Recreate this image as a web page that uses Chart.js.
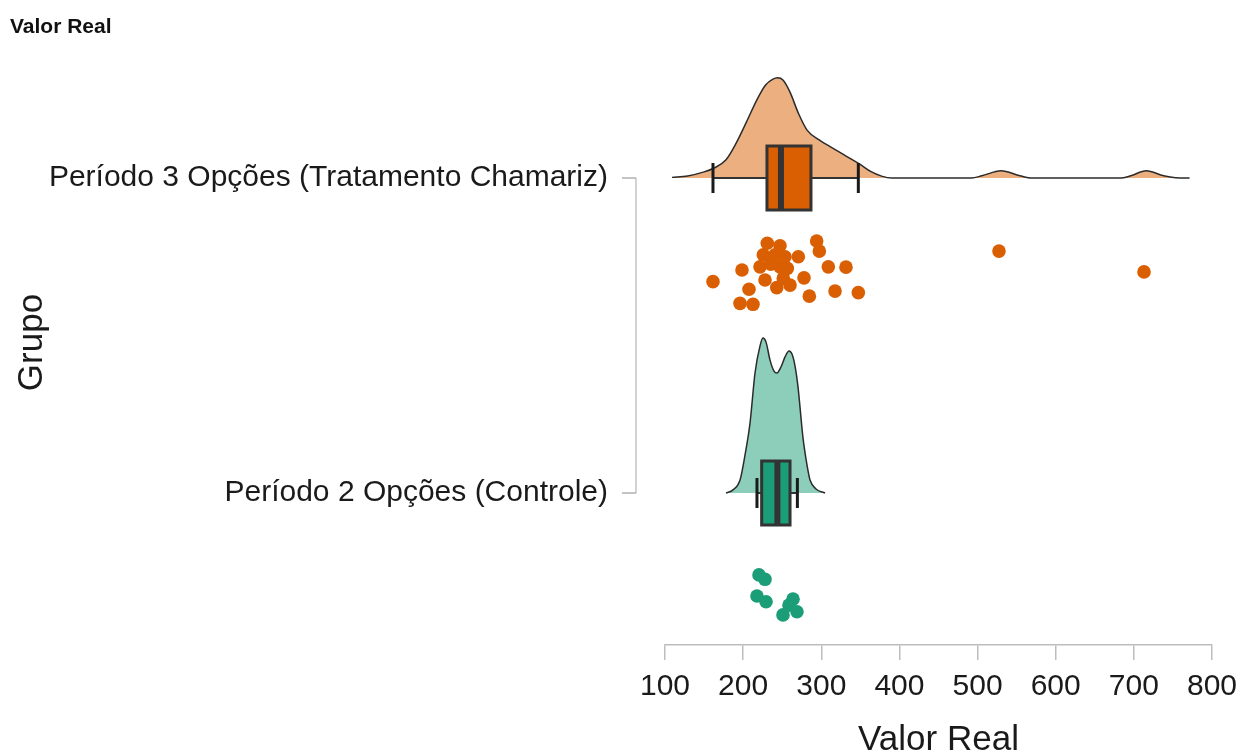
<!DOCTYPE html>
<html>
<head>
<meta charset="utf-8">
<script src="https://cdn.jsdelivr.net/npm/chart.js@4.4.1/dist/chart.umd.min.js"></script>
<style>
  html, body { margin: 0; padding: 0; background: #ffffff; }
  canvas { display: block; }
</style>
</head>
<body>
<canvas id="chart" width="1241" height="756"></canvas>
<script>
// Groups and their position on the vertical axis
const groupLabels = ['Período 2 Opções (Controle)', 'Período 3 Opções (Tratamento Chamariz)'];
const groupPos = [1, 2];

// Horizontal axis ticks
const xTicks = [100, 200, 300, 400, 500, 600, 700, 800];

// Tratamento Chamariz: observed values and vertical jitter of each dot
const tratValues = [161.4, 196.0, 198.5, 207.5, 212.6, 221.6, 225.8, 228.0, 230.9, 235.3,
                    240.8, 243.0, 247.2, 247.2, 251.4, 253.6, 256.5, 260.0, 270.6, 277.9,
                    284.7, 294.1, 297.5, 309.0, 317.6, 331.6, 347.4, 527.4, 713.0];
const tratJitter = [0.329, 0.398, 0.292, 0.353, 0.401, 0.282, 0.244, 0.324, 0.207, 0.274,
                    0.244, 0.348, 0.215, 0.282, 0.318, 0.250, 0.287, 0.340, 0.250, 0.317,
                    0.375, 0.200, 0.232, 0.282, 0.359, 0.283, 0.364, 0.232, 0.298];

// Controle: observed values and vertical jitter
const contValues = [217.7, 220.3, 228.0, 229.3, 251.0, 258.7, 263.8, 268.9];
const contJitter = [0.327, 0.260, 0.274, 0.345, 0.387, 0.356, 0.337, 0.377];

// Density curves: x positions and heights (in group units)
const tratDensX = [109.0, 129.0, 146.7, 162.3, 177.8, 190.9, 204.3, 217.6, 228.7, 237.6,
                   244.2, 250.9, 259.7, 270.8, 281.8, 297.3, 315.1, 332.8, 349.2, 363.7,
                   377.1, 390.4, 492.2, 505.5, 530.0, 554.3, 569.7, 682.8, 696.1, 715.9,
                   738.1, 753.5, 771.3];
const tratDensH = [0.002, 0.006, 0.017, 0.031, 0.057, 0.110, 0.178, 0.248, 0.295, 0.313,
                   0.318, 0.311, 0.274, 0.205, 0.152, 0.121, 0.094, 0.068, 0.044, 0.020,
                   0.006, 0.000, 0.000, 0.007, 0.023, 0.007, 0.000, 0.000, 0.007, 0.023,
                   0.007, 0.001, 0.000];

const contDensX = [178.1, 187.0, 196.0, 202.4, 208.8, 215.2, 221.6, 225.4, 229.3, 234.4,
                   239.5, 243.3, 248.4, 253.6, 258.7, 262.5, 266.4, 270.2, 276.6, 281.7,
                   285.6, 293.2, 304.8];
const contDensH = [0.000, 0.010, 0.041, 0.121, 0.222, 0.381, 0.467, 0.492, 0.479, 0.422,
                   0.387, 0.381, 0.400, 0.432, 0.451, 0.441, 0.403, 0.337, 0.175, 0.089,
                   0.041, 0.013, 0.000];

// Box plot summaries: [lower whisker, Q1, median, Q3, upper whisker]
const contBox = [217.7, 223.7, 243.8, 260.0, 269.4];
const tratBox = [161.4, 230.5, 248.4, 286.8, 347.4];

const FONT = "'Liberation Sans', Arial, Helvetica, sans-serif";
const ORANGE = '#d95f02';
const ORANGE_LIGHT = '#ecaf80';
const GREEN = '#1b9e77';
const GREEN_LIGHT = '#8dcebb';

const densityPoints = (xs, hs, base) => xs.map((x, i) => ({ x: x, y: base + hs[i] }));
const dotPoints = (vals, jit, base) => vals.map((v, i) => ({ x: v, y: base - jit[i] }));

const boxes = [
  { pos: groupPos[0], stats: contBox, fill: GREEN },
  { pos: groupPos[1], stats: tratBox, fill: ORANGE }
];

// Keep each axis box at a fixed size without extra label overhang padding
const fixBox = (size, key) => s => {
  s[key] = size;
  s.paddingTop = 0; s.paddingBottom = 0; s.paddingLeft = 0; s.paddingRight = 0;
};

// Box plots, whiskers, the bracket-style group axis and the corner caption
const rainPlugin = {
  id: 'rain',
  afterDatasetsDraw(chart) {
    const { ctx, scales: { x, y } } = chart;
    const half = 32, cap = 15;
    boxes.forEach(b => {
      const [wlo, q1, med, q3, whi] = b.stats.map(v => x.getPixelForValue(v));
      const yc = y.getPixelForValue(b.pos);
      ctx.save();
      ctx.strokeStyle = '#333333';
      ctx.lineWidth = 2;
      ctx.beginPath();
      ctx.moveTo(wlo, yc); ctx.lineTo(whi, yc);
      ctx.stroke();
      ctx.strokeStyle = '#1a1a1a';
      ctx.lineWidth = 3;
      [wlo, whi].forEach(px => {
        ctx.beginPath();
        ctx.moveTo(px, yc - cap); ctx.lineTo(px, yc + cap);
        ctx.stroke();
      });
      ctx.fillStyle = b.fill;
      ctx.fillRect(q1, yc - half, q3 - q1, 2 * half);
      ctx.strokeStyle = '#333333';
      ctx.lineWidth = 3;
      ctx.strokeRect(q1, yc - half, q3 - q1, 2 * half);
      ctx.lineWidth = 6;
      ctx.beginPath();
      ctx.moveTo(med, yc - half); ctx.lineTo(med, yc + half);
      ctx.stroke();
      ctx.restore();
    });
  },
  afterDraw(chart) {
    const { ctx, chartArea, scales: { y } } = chart;
    const ax = chartArea.left - 29;
    const yTop = y.getPixelForValue(groupPos[1]);
    const yBot = y.getPixelForValue(groupPos[0]);
    ctx.save();
    ctx.strokeStyle = '#c4c4c4';
    ctx.lineWidth = 1.5;
    ctx.beginPath();
    ctx.moveTo(ax, yTop); ctx.lineTo(ax, yBot);
    ctx.stroke();
    ctx.strokeStyle = '#b0b0b0';
    [yTop, yBot].forEach(py => {
      ctx.beginPath();
      ctx.moveTo(ax - 14, py); ctx.lineTo(ax, py);
      ctx.stroke();
    });
    ctx.fillStyle = '#111111';
    ctx.font = 'bold 21px ' + FONT;
    ctx.textBaseline = 'alphabetic';
    ctx.textAlign = 'left';
    ctx.fillText('Valor Real', 10, 33);
    ctx.restore();
  }
};

new Chart(document.getElementById('chart'), {
  type: 'scatter',
  data: {
    datasets: [
      {
        type: 'line',
        data: densityPoints(tratDensX, tratDensH, groupPos[1]),
        fill: { value: groupPos[1] },
        backgroundColor: ORANGE_LIGHT,
        borderColor: '#2b2b2b',
        borderWidth: 1.5,
        pointRadius: 0,
        cubicInterpolationMode: 'monotone'
      },
      {
        type: 'line',
        data: densityPoints(contDensX, contDensH, groupPos[0]),
        fill: { value: groupPos[0] },
        backgroundColor: GREEN_LIGHT,
        borderColor: '#2b2b2b',
        borderWidth: 1.5,
        pointRadius: 0,
        cubicInterpolationMode: 'monotone'
      },
      {
        data: dotPoints(tratValues, tratJitter, groupPos[1]),
        backgroundColor: ORANGE,
        borderWidth: 0,
        pointRadius: 6.8
      },
      {
        data: dotPoints(contValues, contJitter, groupPos[0]),
        backgroundColor: GREEN,
        borderWidth: 0,
        pointRadius: 6.8
      }
    ]
  },
  options: {
    responsive: false,
    animation: false,
    devicePixelRatio: 1,
    layout: { padding: { top: 40, right: 29, left: 0, bottom: 0 } },
    plugins: { legend: { display: false }, tooltip: { enabled: false } },
    scales: {
      x: {
        type: 'linear',
        position: 'bottom',
        min: 100,
        max: 800,
        afterBuildTicks: s => { s.ticks = xTicks.map(v => ({ value: v })); },
        afterFit: fixBox(111, 'height'),
        grid: { drawOnChartArea: false, color: '#bdbdbd', lineWidth: 1.5, tickLength: 15 },
        border: { display: true, color: '#bdbdbd', width: 1.5 },
        ticks: {
          autoSkip: false, maxRotation: 0, padding: 9, color: '#1a1a1a',
          font: { family: FONT, size: 30 }
        },
        title: {
          display: true, text: 'Valor Real', color: '#1a1a1a',
          font: { family: FONT, size: 35, lineHeight: 0.9 },
          padding: { top: 0, bottom: 0 }
        }
      },
      y: {
        type: 'linear',
        position: 'left',
        min: 0.5175,
        max: 2.4381,
        afterBuildTicks: s => { s.ticks = groupPos.map(v => ({ value: v })); },
        afterFit: fixBox(665, 'width'),
        grid: { display: false, drawTicks: false },
        border: { display: false },
        ticks: {
          padding: 57, color: '#1a1a1a',
          font: { family: FONT, size: 30 },
          callback: v => groupLabels[groupPos.indexOf(v)]
        },
        title: {
          display: true, text: 'Grupo', color: '#1a1a1a',
          font: { family: FONT, size: 35, lineHeight: 1 },
          padding: { top: 15, bottom: 0 }
        }
      }
    }
  },
  plugins: [rainPlugin]
});
</script>
</body>
</html>
